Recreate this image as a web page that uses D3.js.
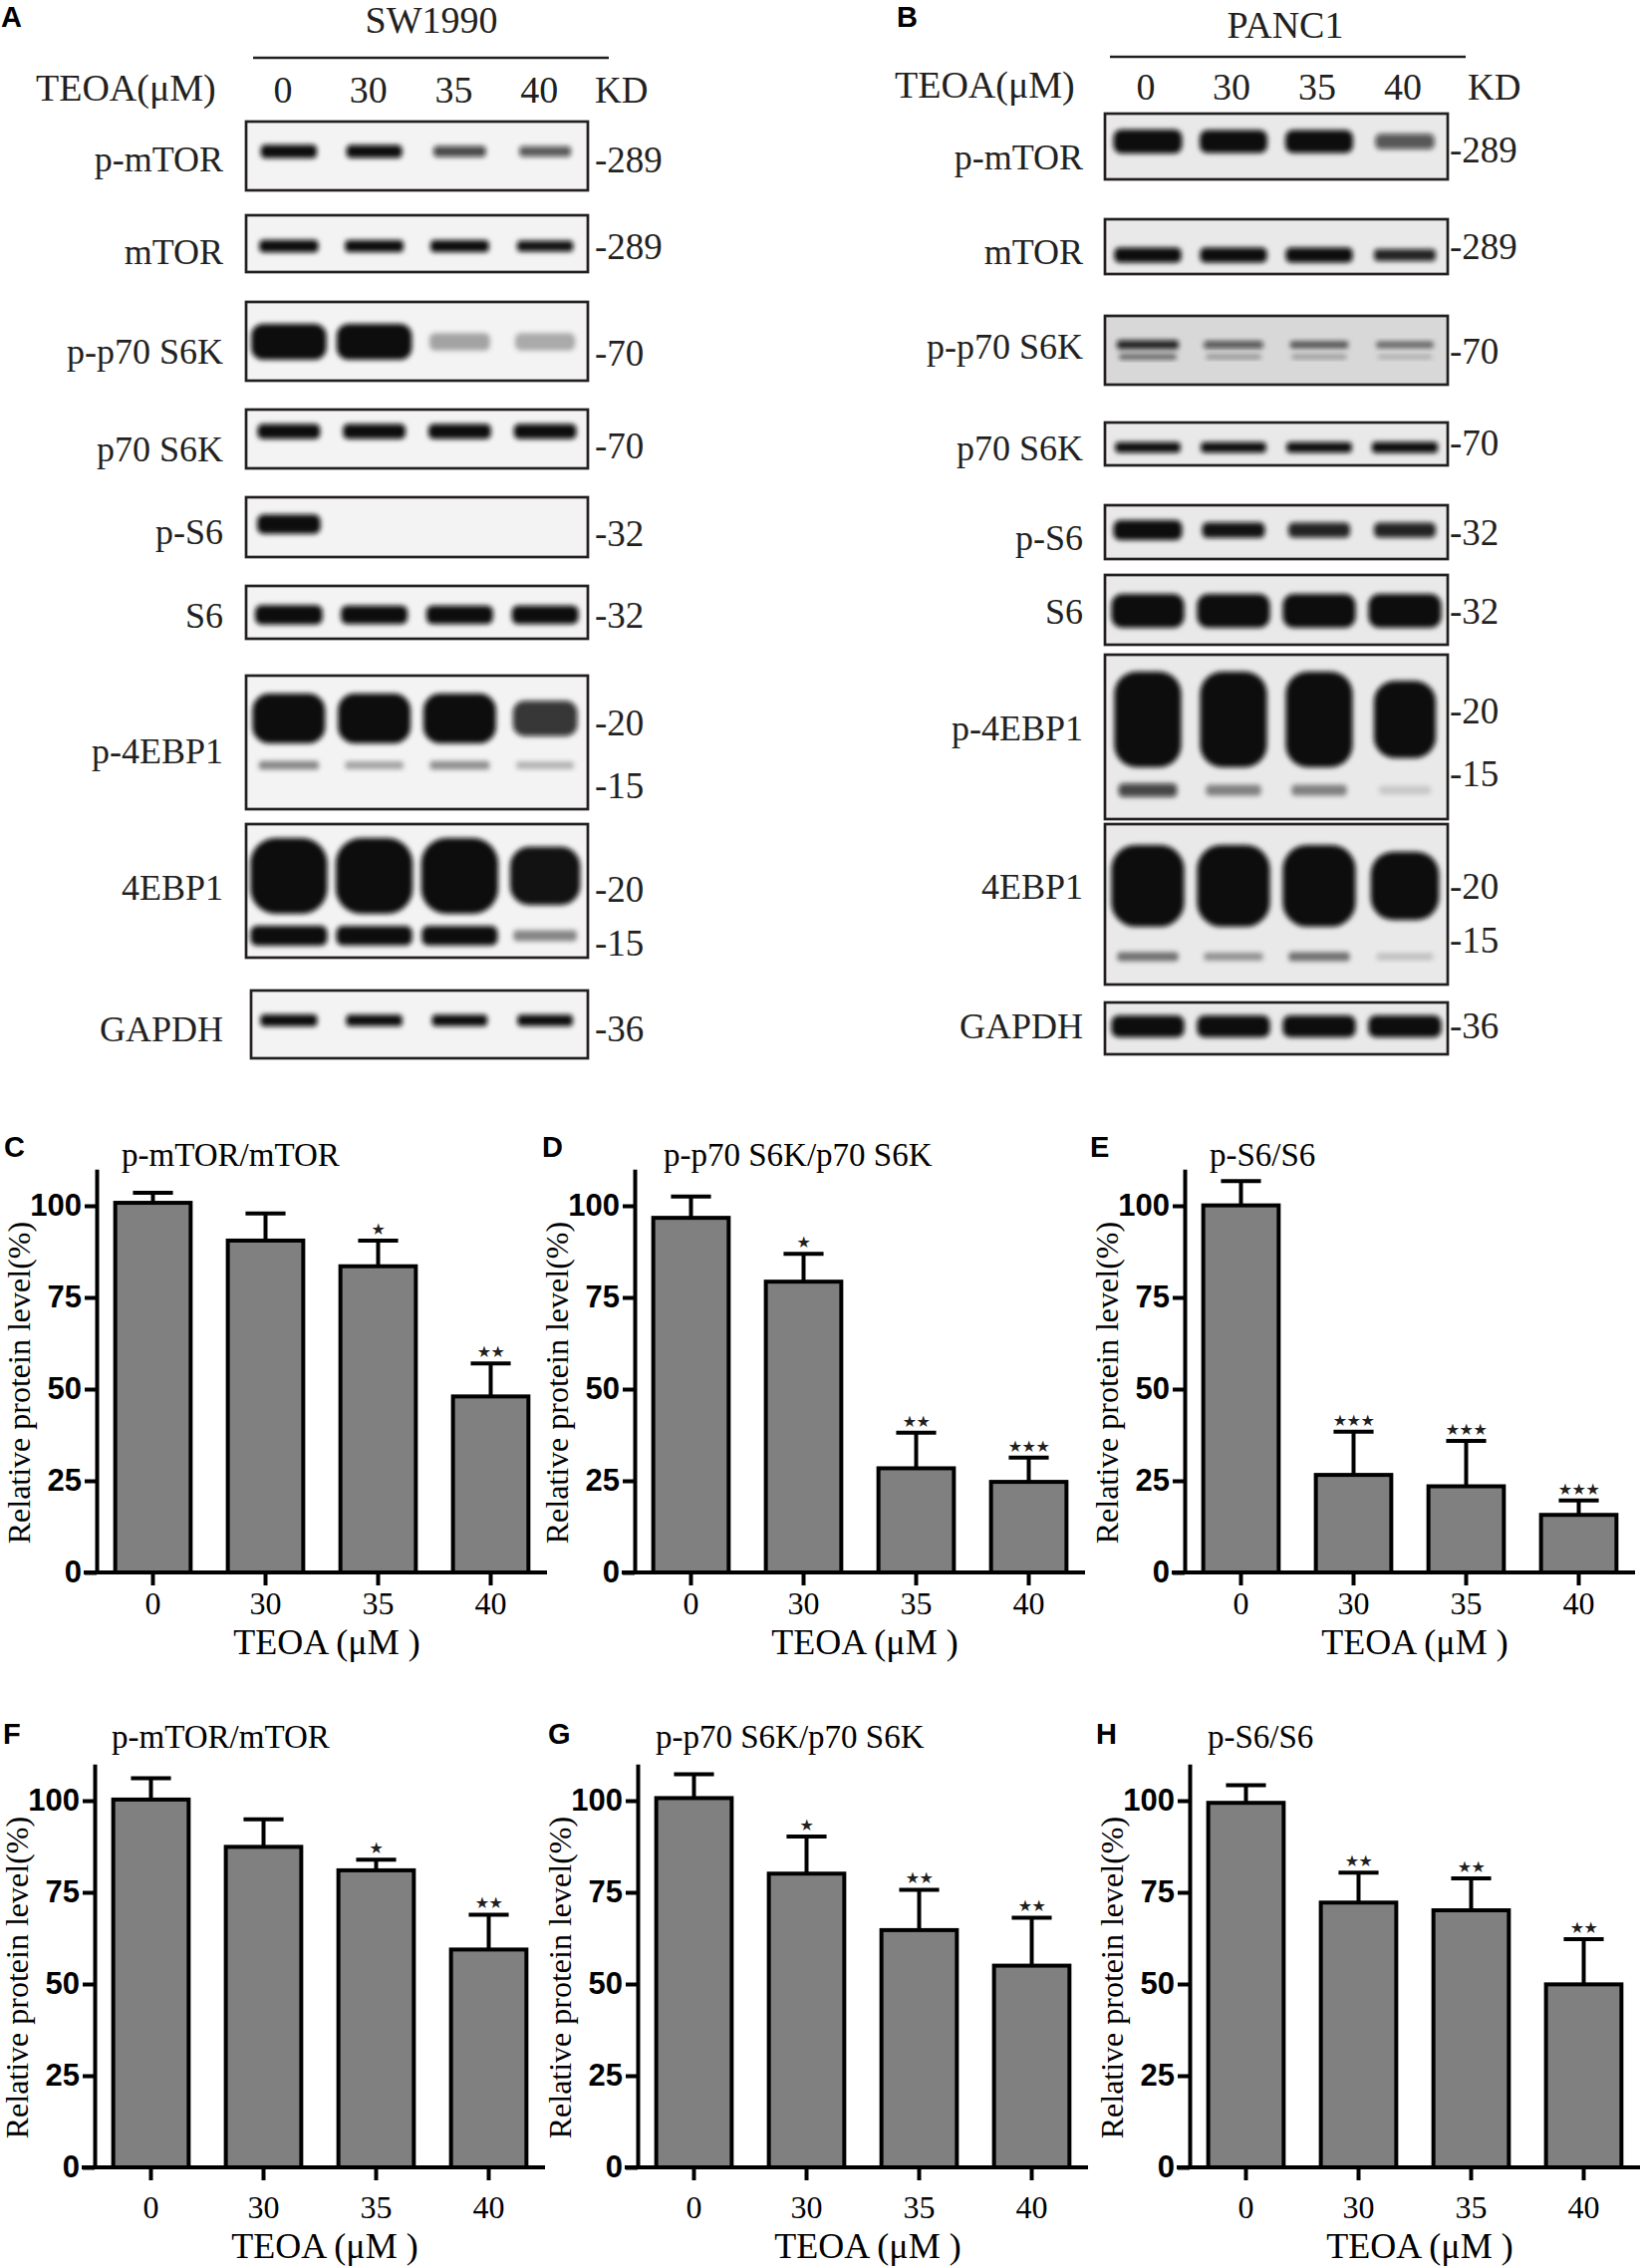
<!DOCTYPE html>
<html>
<head>
<meta charset="utf-8">
<script src="https://cdn.jsdelivr.net/npm/d3@7"></script>
<style>
  html, body { margin: 0; padding: 0; background: #fff; }
  svg { display: block; }
  .serif { font-family: "Liberation Serif", "Times New Roman", serif; }
  .sans { font-family: "Liberation Sans", Arial, sans-serif; }
</style>
</head>
<body>
<svg id="fig" width="1650" height="2276"></svg>
<script>
// ---------- data ----------
const lanes = ["0", "30", "35", "40"];
const yTicks = [0, 25, 50, 75, 100];

// western blots: band signal per lane (0 = none, 1 = saturated), one array per band
const swBlots = [
  { protein: "p-mTOR",    kd: ["-289"],       bands: [[0.75, 0.72, 0.5, 0.45]] },
  { protein: "mTOR",      kd: ["-289"],       bands: [[0.85, 0.8, 0.8, 0.65]] },
  { protein: "p-p70 S6K", kd: ["-70"],        bands: [[1, 1, 0.22, 0.2]] },
  { protein: "p70 S6K",   kd: ["-70"],        bands: [[0.9, 0.9, 0.9, 0.9]] },
  { protein: "p-S6",      kd: ["-32"],        bands: [[0.95, 0, 0, 0]] },
  { protein: "S6",        kd: ["-32"],        bands: [[0.95, 0.9, 0.9, 0.9]] },
  { protein: "p-4EBP1",   kd: ["-20", "-15"], bands: [[1, 1, 1, 0.55], [0.3, 0.22, 0.28, 0.18]] },
  { protein: "4EBP1",     kd: ["-20", "-15"], bands: [[1, 1, 1, 0.65], [1, 0.95, 0.95, 0.3]] },
  { protein: "GAPDH",     kd: ["-36"],        bands: [[0.8, 0.75, 0.7, 0.7]] },
];

const panBlots = [
  { protein: "p-mTOR",    kd: ["-289"],       bands: [[1, 0.95, 0.95, 0.45]] },
  { protein: "mTOR",      kd: ["-289"],       bands: [[0.9, 0.9, 0.9, 0.6]] },
  { protein: "p-p70 S6K", kd: ["-70"],        bands: [[0.6, 0.45, 0.4, 0.35], [0.35, 0.22, 0.2, 0.15]] },
  { protein: "p70 S6K",   kd: ["-70"],        bands: [[0.8, 0.8, 0.8, 0.85]] },
  { protein: "p-S6",      kd: ["-32"],        bands: [[1, 0.65, 0.6, 0.6]] },
  { protein: "S6",        kd: ["-32"],        bands: [[1, 1, 1, 1]] },
  { protein: "p-4EBP1",   kd: ["-20", "-15"], bands: [[1, 1, 1, 0.7], [0.5, 0.3, 0.3, 0.1]] },
  { protein: "4EBP1",     kd: ["-20", "-15"], bands: [[1, 1, 1, 0.75], [0.35, 0.25, 0.35, 0.12]] },
  { protein: "GAPDH",     kd: ["-36"],        bands: [[1, 1, 1, 1]] },
];

// quantification, relative protein level (%)
const chartTitles = ["p-mTOR/mTOR", "p-p70 S6K/p70 S6K", "p-S6/S6"];

const cMean = [100.8, 90.5, 83.5, 48];
const cErr  = [2.7, 7.4, 7, 9];
const cSig  = ["", "", "★", "★★"];

const dMean = [96.7, 79.3, 28.4, 24.7];
const dErr  = [5.8, 7.6, 9.7, 6.6];
const dSig  = ["", "★", "★★", "★★★"];

const eMean = [100.1, 26.6, 23.5, 15.7];
const eErr  = [6.6, 11.8, 12.4, 3.9];
const eSig  = ["", "★★★", "★★★", "★★★"];

const fMean = [100.3, 87.4, 81, 59.4];
const fErr  = [5.8, 7.5, 2.9, 9.5];
const fSig  = ["", "", "★", "★★"];

const gMean = [100.7, 80.1, 64.7, 55];
const gErr  = [6.5, 10.1, 11, 13.1];
const gSig  = ["", "★", "★★", "★★"];

const hMean = [99.4, 72.2, 70.1, 49.9];
const hErr  = [4.8, 8.2, 8.7, 12.3];
const hSig  = ["", "★★", "★★", "★★"];

// ---------- drawing ----------
const svg = d3.select("#fig");
const ink = "#231f20";

svg.append("rect").attr("width", 1650).attr("height", 2276).attr("fill", "#fff");

const defs = svg.append("defs");
defs.append("filter")
    .attr("id", "blur")
    .attr("x", "-50%").attr("y", "-50%")
    .attr("width", "200%").attr("height", "200%")
  .append("feGaussianBlur")
    .attr("stdDeviation", 2.4);

// box geometry per blot row (top, bottom, band centres, band heights, band width, kd / label baselines)
const swLayout = [
  { y0: 122, y1: 191, cy: [152],      h: [16],     w: 0.70, kdY: [173],      labelY: 172 },
  { y0: 216, y1: 273, cy: [247],      h: [14],     w: 0.72, kdY: [260],      labelY: 265 },
  { y0: 303, y1: 382, cy: [343],      h: [36],     w: 0.88, kdY: [367],      labelY: 365 },
  { y0: 411, y1: 470, cy: [433],      h: [16],     w: 0.75, kdY: [460],      labelY: 463 },
  { y0: 499, y1: 559, cy: [526],      h: [20],     w: 0.75, kdY: [548],      labelY: 546 },
  { y0: 588, y1: 641, cy: [617],      h: [20],     w: 0.80, kdY: [630],      labelY: 630 },
  { y0: 678, y1: 812, cy: [721, 768], h: [50, 16], w: 0.85, kdY: [738, 801], labelY: 766 },
  { y0: 827, y1: 961, cy: [879, 939], h: [76, 20], w: 0.90, kdY: [905, 959], labelY: 903 },
  { y0: 994, y1: 1062, cy: [1024],    h: [14],     w: 0.70, kdY: [1045],     labelY: 1045, inset: 5 },
];

const panLayout = [
  { y0: 114, y1: 180, cy: [142],      h: [24],     w: 0.80, kdY: [163],      labelY: 170 },
  { y0: 220, y1: 275, cy: [256],      h: [16],     w: 0.80, kdY: [260],      labelY: 265 },
  { y0: 317, y1: 386, cy: [346, 358], h: [12, 10], w: 0.80, kdY: [365],      labelY: 360, bg: "#d8d8d8" },
  { y0: 424, y1: 467, cy: [449],      h: [12],     w: 0.80, kdY: [457],      labelY: 462 },
  { y0: 507, y1: 561, cy: [532],      h: [20],     w: 0.80, kdY: [547],      labelY: 552 },
  { y0: 577, y1: 647, cy: [613],      h: [34],     w: 0.85, kdY: [626],      labelY: 626 },
  { y0: 657, y1: 822, cy: [722, 793], h: [96, 20], w: 0.78, kdY: [726, 789], labelY: 743 },
  { y0: 827, y1: 988, cy: [889, 960], h: [82, 16], w: 0.85, kdY: [902, 956], labelY: 902 },
  { y0: 1006, y1: 1058, cy: [1030],   h: [22],     w: 0.85, kdY: [1042],     labelY: 1042 },
];

function drawBlotPanel(cfg) {
  const g = svg.append("g");
  const x = d3.scaleBand().domain(lanes).range([cfg.x0, cfg.x1]);

  g.append("text").attr("class", "sans")
      .attr("x", cfg.letterX).attr("y", 27)
      .attr("font-size", 29).attr("font-weight", "bold").attr("fill", "#000")
      .text(cfg.letter);

  g.append("text").attr("class", "serif")
      .attr("x", cfg.cellX).attr("y", cfg.cellY)
      .attr("text-anchor", "middle").attr("font-size", 38).attr("fill", ink)
      .text(cfg.cell);

  g.append("line")
      .attr("x1", cfg.lineX[0]).attr("x2", cfg.lineX[1])
      .attr("y1", cfg.lineY).attr("y2", cfg.lineY)
      .attr("stroke", ink).attr("stroke-width", 2.5);

  g.append("text").attr("class", "serif")
      .attr("x", cfg.teoaX).attr("y", cfg.headY - 2)
      .attr("font-size", 38).attr("fill", ink)
      .text("TEOA(μM)");

  g.selectAll("text.lane")
      .data(lanes)
      .enter()
      .append("text")
      .attr("class", "lane serif")
      .attr("x", d => x(d) + x.bandwidth() / 2 - cfg.laneShift)
      .attr("y", cfg.headY)
      .attr("text-anchor", "middle").attr("font-size", 38).attr("fill", ink)
      .text(d => d);

  g.append("text").attr("class", "serif")
      .attr("x", cfg.kdHeadX).attr("y", cfg.headY)
      .attr("font-size", 37).attr("fill", ink)
      .text("KD");

  cfg.rows.forEach((row, i) => {
    const L = cfg.layout[i];
    const bx0 = cfg.x0 + (L.inset || 0);
    const id = `clip-${cfg.letter}-${i}`;

    defs.append("clipPath").attr("id", id)
      .append("rect")
        .attr("x", bx0).attr("y", L.y0)
        .attr("width", cfg.x1 - bx0).attr("height", L.y1 - L.y0);

    const gRow = g.append("g");
    const gIn = gRow.append("g").attr("clip-path", `url(#${id})`);

    gIn.append("rect")
        .attr("x", bx0).attr("y", L.y0)
        .attr("width", cfg.x1 - bx0).attr("height", L.y1 - L.y0)
        .attr("fill", L.bg || cfg.bg);

    row.bands.forEach((sig, gi) => {
      const cy = L.cy[gi];
      const h = L.h[gi];
      const bw = s => x.bandwidth() * L.w * (0.75 + 0.25 * s);
      const bh = s => h * (0.35 + 0.65 * s);
      gIn.selectAll(null)
          .data(sig)
          .enter()
          .append("rect")
          .attr("x", (s, j) => x(lanes[j]) + x.bandwidth() / 2 - bw(s) / 2)
          .attr("y", s => cy - bh(s) / 2)
          .attr("width", s => bw(s))
          .attr("height", s => bh(s))
          .attr("rx", s => Math.min(bh(s), bw(s)) / 3)
          .attr("fill", "#0a0a0a")
          .attr("fill-opacity", s => Math.min(1, 1.5 * s))
          .attr("filter", "url(#blur)");
    });

    gRow.append("rect")
        .attr("x", bx0).attr("y", L.y0)
        .attr("width", cfg.x1 - bx0).attr("height", L.y1 - L.y0)
        .attr("fill", "none").attr("stroke", ink).attr("stroke-width", 2.7);

    gRow.append("text").attr("class", "serif")
        .attr("x", cfg.labelX).attr("y", L.labelY)
        .attr("text-anchor", "end").attr("font-size", 36).attr("fill", ink)
        .text(row.protein);

    gRow.selectAll("text.kd")
        .data(row.kd)
        .enter()
        .append("text")
        .attr("class", "kd serif")
        .attr("x", cfg.kdX)
        .attr("y", (d, k) => L.kdY[k])
        .attr("font-size", 37).attr("fill", ink)
        .text(d => d);
  });
}

drawBlotPanel({
  letter: "A", letterX: 1, cell: "SW1990", cellX: 433, cellY: 33,
  lineX: [254, 611], lineY: 58, teoaX: 36, headY: 103, laneShift: 6, kdHeadX: 597,
  x0: 247, x1: 590, labelX: 224, kdX: 597, bg: "#f3f3f3",
  rows: swBlots, layout: swLayout,
});

drawBlotPanel({
  letter: "B", letterX: 900, cell: "PANC1", cellX: 1290, cellY: 38,
  lineX: [1114, 1471], lineY: 57, teoaX: 898, headY: 100, laneShift: 2, kdHeadX: 1473,
  x0: 1109, x1: 1453, labelX: 1087, kdX: 1455, bg: "#e9e9e9",
  rows: panBlots, layout: panLayout,
});

// ---------- bar charts ----------
function drawChart(cfg) {
  const g = svg.append("g");
  const y = d3.scaleLinear().domain([0, 110]).range([cfg.base, cfg.base - 110 * 3.68]);
  const x = d3.scaleBand().domain(lanes)
      .range([cfg.ax, cfg.ax + 452])
      .paddingInner(0.33).paddingOuter(0.165);

  g.append("text").attr("class", "sans")
      .attr("x", cfg.letterX).attr("y", cfg.letterY)
      .attr("font-size", 29).attr("font-weight", "bold").attr("fill", "#000")
      .text(cfg.letter);

  g.append("text").attr("class", "serif")
      .attr("x", cfg.titleX).attr("y", cfg.titleY)
      .attr("font-size", 33).attr("fill", "#000")
      .text(cfg.title);

  // bars
  g.selectAll("rect.bar")
      .data(cfg.mean)
      .enter()
      .append("rect")
      .attr("class", "bar")
      .attr("x", (d, i) => x(lanes[i]))
      .attr("y", d => y(d))
      .attr("width", x.bandwidth())
      .attr("height", d => y(0) - y(d))
      .attr("fill", "#808080")
      .attr("stroke", "#000")
      .attr("stroke-width", 4);

  // error bars (upper only)
  const cx = i => x(lanes[i]) + x.bandwidth() / 2;
  const capW = x.bandwidth() * 0.53;
  g.selectAll("line.err")
      .data(cfg.mean)
      .enter()
      .append("line")
      .attr("class", "err")
      .attr("x1", (d, i) => cx(i)).attr("x2", (d, i) => cx(i))
      .attr("y1", d => y(d))
      .attr("y2", (d, i) => y(d + cfg.err[i]))
      .attr("stroke", "#000").attr("stroke-width", 4);
  g.selectAll("line.cap")
      .data(cfg.mean)
      .enter()
      .append("line")
      .attr("class", "cap")
      .attr("x1", (d, i) => cx(i) - capW / 2).attr("x2", (d, i) => cx(i) + capW / 2)
      .attr("y1", (d, i) => y(d + cfg.err[i]))
      .attr("y2", (d, i) => y(d + cfg.err[i]))
      .attr("stroke", "#000").attr("stroke-width", 4);

  // significance stars
  g.selectAll("text.sig")
      .data(cfg.sig)
      .enter()
      .append("text")
      .attr("class", "sig")
      .attr("x", (d, i) => cx(i))
      .attr("y", (d, i) => y(cfg.mean[i] + cfg.err[i]) - 6)
      .attr("text-anchor", "middle")
      .attr("font-family", "DejaVu Sans")
      .attr("font-size", 16)
      .attr("letter-spacing", -0.5)
      .attr("fill", ink)
      .text(d => d);

  // y axis
  const yAxis = g.append("g")
      .attr("transform", `translate(${cfg.ax},0)`)
      .call(d3.axisLeft(y).tickValues(yTicks).tickSize(12).tickSizeOuter(0).tickPadding(3));
  yAxis.select(".domain").attr("stroke", "#000").attr("stroke-width", 4);
  yAxis.selectAll(".tick line").attr("stroke", "#000").attr("stroke-width", 4);
  yAxis.selectAll(".tick text")
      .attr("class", "sans")
      .attr("font-size", 31).attr("font-weight", "bold").attr("fill", "#000");

  // x axis
  g.append("line")
      .attr("x1", cfg.ax - 13).attr("x2", cfg.ax + 452)
      .attr("y1", y(0)).attr("y2", y(0))
      .attr("stroke", "#000").attr("stroke-width", 4);
  const xAxis = g.append("g")
      .attr("transform", `translate(0,${y(0)})`)
      .call(d3.axisBottom(x).tickSize(13).tickSizeOuter(0));
  xAxis.select(".domain").remove();
  xAxis.selectAll(".tick line").attr("stroke", "#000").attr("stroke-width", 4);
  xAxis.selectAll(".tick text")
      .attr("class", "serif")
      .attr("y", cfg.tickDy).attr("dy", 0)
      .attr("font-size", 32).attr("fill", "#000");

  g.append("text").attr("class", "serif")
      .attr("x", cfg.ax + 231).attr("y", y(0) + cfg.xtDy)
      .attr("text-anchor", "middle")
      .attr("font-size", 36).attr("fill", "#000")
      .text("TEOA (μM )");

  g.append("text").attr("class", "serif")
      .attr("transform", `translate(${cfg.ax - 67},${(y(0) + y(110)) / 2 + 12}) rotate(-90)`)
      .attr("text-anchor", "middle")
      .attr("font-size", 32).attr("fill", "#000")
      .text("Relative protein level(%)");
}

const row1 = { base: 1578, letterY: 1161, titleY: 1170, tickDy: 42, xtDy: 82 };
const row2 = { base: 2175, letterY: 1750, titleY: 1754, tickDy: 51, xtDy: 91 };

drawChart({ ...row1, ax: 97,   letter: "C", letterX: 4,    titleX: 122,  title: chartTitles[0], mean: cMean, err: cErr, sig: cSig });
drawChart({ ...row1, ax: 637,  letter: "D", letterX: 544,  titleX: 666,  title: chartTitles[1], mean: dMean, err: dErr, sig: dSig });
drawChart({ ...row1, ax: 1189, letter: "E", letterX: 1094, titleX: 1214, title: chartTitles[2], mean: eMean, err: eErr, sig: eSig });
drawChart({ ...row2, ax: 95,   letter: "F", letterX: 3,    titleX: 112,  title: chartTitles[0], mean: fMean, err: fErr, sig: fSig });
drawChart({ ...row2, ax: 640,  letter: "G", letterX: 550,  titleX: 658,  title: chartTitles[1], mean: gMean, err: gErr, sig: gSig });
drawChart({ ...row2, ax: 1194, letter: "H", letterX: 1100, titleX: 1212, title: chartTitles[2], mean: hMean, err: hErr, sig: hSig });
</script>
</body>
</html>
